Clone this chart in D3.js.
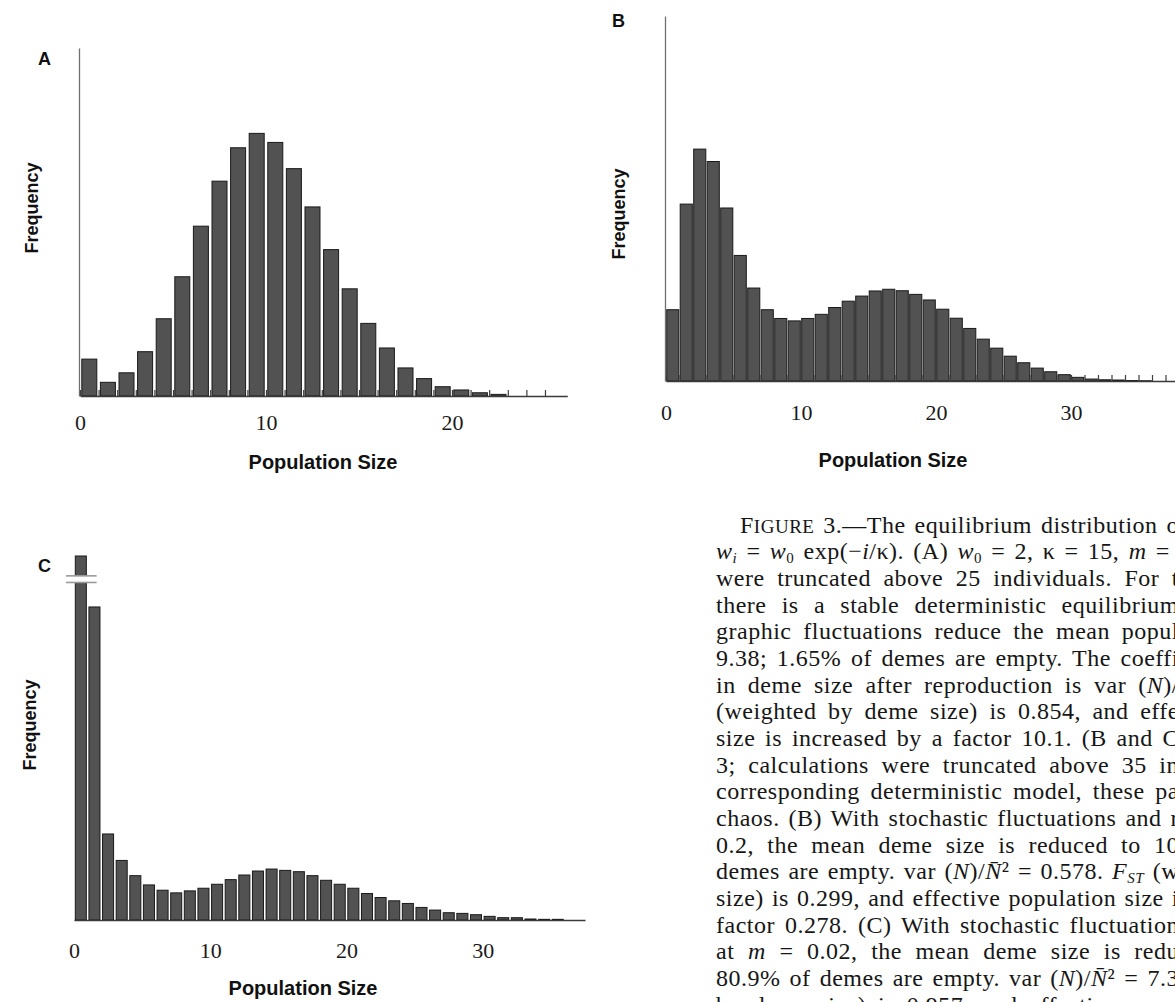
<!DOCTYPE html>
<html>

<head>
  <title>Figure 3</title>
  <script type="text/javascript" src="https://cdn.jsdelivr.net/npm/d3@7"></script>
  <style>
    body { margin: 0; background: #fff; }
    svg { display: block; }
  </style>
</head>

<body>
  <script type="text/javascript">

    // Frequencies (% of demes). Index = population size.
    const freqA = [1.59, 0.59, 1.00, 1.91, 3.33, 5.14, 7.32, 9.26, 10.70, 11.32, 10.93, 9.80,
      8.15, 6.31, 4.62, 3.13, 2.07, 1.21, 0.75, 0.40, 0.26, 0.14, 0.07];
    const freqB = [2.93, 7.27, 9.53, 9.02, 7.11, 5.16, 3.82, 2.93, 2.57, 2.47, 2.57, 2.74,
      3.02, 3.28, 3.49, 3.70, 3.77, 3.71, 3.56, 3.33, 2.95, 2.58, 2.16, 1.72, 1.35, 1.02,
      0.75, 0.53, 0.38, 0.26, 0.15, 0.08, 0.05, 0.04, 0.02, 0.01];
    // first bar of C (80.9% empty demes) runs off the top of the axis
    const freqC = [80.9, 4.73, 1.30, 0.90, 0.67, 0.53, 0.45, 0.41, 0.44, 0.48, 0.54, 0.61,
      0.68, 0.74, 0.77, 0.75, 0.73, 0.67, 0.60, 0.54, 0.48, 0.40, 0.34, 0.29, 0.25, 0.19,
      0.15, 0.11, 0.10, 0.08, 0.055, 0.035, 0.035, 0.015, 0.01, 0.01];

    // tick labels
    const labelsA = [0, 10, 20];
    const labelsB = [0, 10, 20, 30];
    const labelsC = [0, 10, 20, 30];

    // small tick marks along the base (every integer)
    const minorA = d3.range(0, 26);
    const minorB = d3.range(0, 39);

    // Caption: each line is a list of [text, style] pieces.
    // style: "" normal, "i" italic, "sub" subscript, "isub" italic subscript, "sc" small caps
    const caption = [
      [["F", ""], ["IGURE", "sc"], [" 3.—The equilibrium distribution o", ""], ["f deme size", ""]],
      [["w", "i"], ["i", "isub"], [" = ", ""], ["w", "i"], ["0", "sub"], [" exp(−", ""], ["i", "i"], ["/κ). (A) ", ""],
       ["w", "i"], ["0", "sub"], [" = 2, κ = 15, ", ""], ["m", "i"], [" = ", ""], ["0.2. Calculations", ""]],
      [["were truncated above 25 individuals. For t", ""], ["hese parameters", ""]],
      [["there is a stable deterministic equilibrium", ""], [" at N = 10.7; demo-", ""]],
      [["graphic fluctuations reduce the mean popul", ""], ["ation size to", ""]],
      [["9.38; 1.65% of demes are empty. The coeffi", ""], ["cient of variation", ""]],
      [["in deme size after reproduction is var (", ""], ["N", "i"], [")/", ""], ["N\u0304\u00b2 = 0.290.", ""]],
      [["(weighted by deme size) is 0.854, and effe", ""], ["ctive population", ""]],
      [["size is increased by a factor 10.1. (B and C", ""], [") w0 = 5, κ =", ""]],
      [["3; calculations were truncated above 35 in", ""], ["dividuals. In the", ""]],
      [["corresponding deterministic model, these pa", ""], ["rameters give", ""]],
      [["chaos. (B) With stochastic fluctuations and r", ""], ["m", ""]],
      [["0.2, the mean deme size is reduced to 10", ""], [".5, and 2.93% of", ""]],
      [["demes are empty. var (", ""], ["N", "i"], [")/", ""], ["N\u0304", "i"], ["\u00b2 = 0.578. ", ""], ["F", "i"], ["ST", "isub"], [" (w", ""], ["eighted by deme", ""]],
      [["size) is 0.299, and effective population size i", ""], ["s reduced by a", ""]],
      [["factor 0.278. (C) With stochastic fluctuation", ""], ["s and migration", ""]],
      [["at ", ""], ["m", "i"], [" = 0.02, the mean deme size is redu", ""], ["ced to 1.77, and", ""]],
      [["80.9% of demes are empty. var (", ""], ["N", "i"], [")/", ""], ["N\u0304", "i"], ["\u00b2 = 7.3", ""], ["3. F", ""]],
      [["by deme size) is 0.957, and effective popu", ""], ["lation size is", ""]]
    ];
    // how many pieces of each line are visible before the right edge
    const visiblePieces = [3, 13, 1, 1, 1, 1, 3, 1, 1, 1, 1, 1, 1, 8, 1, 1, 3, 5, 1];

    const w = 1175;
    const h = 1002;
    const serif = "'Liberation Serif', 'Times New Roman', serif";
    const sans = "'Liberation Sans', Arial, Helvetica, sans-serif";

    const svg = d3.select("body")
      .append("svg")
      .attr("width", w)
      .attr("height", h);

    function drawPanel(p) {
      const x = d3.scaleLinear().domain(p.xDomain).range(p.xRange);
      const y = d3.scaleLinear().domain(p.yDomain).range(p.yRange).clamp(true);
      const y0 = y(0);
      const g = svg.append("g");

      // bars
      g.selectAll("rect.bar")
        .data(p.freq)
        .enter()
        .append("rect")
        .attr("class", "bar")
        .attr("x", function (d, i) { return x(i) + p.inset; })
        .attr("y", function (d) { return y(d); })
        .attr("width", function (d, i) { return x(i + 1) - x(i) - 2 * p.inset; })
        .attr("height", function (d) { return y0 - y(d); })
        .attr("fill", "#525252")
        .attr("stroke", "#1a1a1a")
        .attr("stroke-width", 1);

      // y-akse (only a line)
      if (p.yAxis) {
        const ya = g.append("g")
          .attr("transform", "translate(" + (x(0) - 1) + ",0)")
          .call(d3.axisLeft(y).tickValues([]).tickSizeOuter(0));
        ya.select(".domain").attr("stroke", "#707070").attr("stroke-width", 1.3);
      }

      // base line with small upward ticks
      const base = g.append("g")
        .attr("transform", "translate(0," + y0 + ")")
        .call(d3.axisBottom(x).tickValues(p.minor).tickSize(-6).tickSizeOuter(0).tickFormat(""));
      base.select(".domain").attr("stroke", "#3a3a3a").attr("stroke-width", 1.6);
      base.selectAll(".tick line").attr("stroke", "#3c3c3c").attr("stroke-width", 1.2);

      // tick labels
      const lab = g.append("g")
        .attr("transform", "translate(0," + p.labelY + ")")
        .call(d3.axisBottom(x).tickValues(p.labels).tickSize(0).tickPadding(0));
      lab.select(".domain").remove();
      lab.selectAll("text")
        .attr("dy", "0.35em")
        .attr("font-family", serif)
        .attr("font-size", 22)
        .attr("fill", "#1a1a1a");

      // axis titles
      g.append("text")
        .attr("x", p.titleX)
        .attr("y", p.titleY)
        .attr("dy", "0.35em")
        .attr("text-anchor", "middle")
        .attr("font-family", sans)
        .attr("font-weight", "bold")
        .attr("font-size", 20)
        .attr("fill", "#111")
        .text("Population Size");

      g.append("text")
        .attr("transform", "translate(" + p.freqX + "," + p.freqY + ") rotate(-90)")
        .attr("dy", "0.35em")
        .attr("text-anchor", "middle")
        .attr("font-family", sans)
        .attr("font-weight", "bold")
        .attr("font-size", 18)
        .attr("fill", "#111")
        .text("Frequency");

      // panel letter
      g.append("text")
        .attr("x", p.letterX)
        .attr("y", p.letterY)
        .attr("font-family", sans)
        .attr("font-weight", "bold")
        .attr("font-size", 18)
        .attr("fill", "#111")
        .text(p.letter);

      // broken first bar (panel C)
      if (p.breakAt) {
        const bx0 = x(0) - 8;
        const bx1 = x(1) + 9;
        const ya = y(p.breakAt[0]);
        const yb = y(p.breakAt[1]);
        g.append("rect")
          .attr("x", bx0).attr("y", ya).attr("width", bx1 - bx0).attr("height", yb - ya)
          .attr("fill", "#fff");
        [ya, yb].forEach(function (yy) {
          g.append("line")
            .attr("x1", bx0).attr("x2", bx1).attr("y1", yy).attr("y2", yy)
            .attr("stroke", "#9a9a9a").attr("stroke-width", 1.6);
        });
      }
    }

    // Panel A
    drawPanel({
      freq: freqA, labels: labelsA, minor: minorA,
      xDomain: [0, 26.2], xRange: [80, 567.3],
      yDomain: [0, 15], yRange: [396, 48],
      inset: 1.8, yAxis: true,
      labelY: 422, titleX: 323, titleY: 462,
      freqX: 32, freqY: 208, letter: "A", letterX: 38, letterY: 65
    });

    // Panel B
    drawPanel({
      freq: freqB, labels: labelsB, minor: minorB,
      xDomain: [0, 38.5], xRange: [666, 666 + 38.5 * 13.5],
      yDomain: [0, 15], yRange: [381, 16],
      inset: 0.7, yAxis: true,
      labelY: 412, titleX: 893, titleY: 460,
      freqX: 619, freqY: 214, letter: "B", letterX: 612, letterY: 27
    });

    // Panel C
    drawPanel({
      freq: freqC, labels: labelsC, minor: [],
      xDomain: [0, 37.5], xRange: [74, 585],
      yDomain: [0, 5.5], yRange: [920, 556],
      inset: 1.3, yAxis: false,
      labelY: 950, titleX: 303, titleY: 988,
      freqX: 30, freqY: 725, letter: "C", letterX: 38, letterY: 572,
      breakAt: [5.2, 5.1]
    });

    // Caption (cut by the right edge of the page)
    const capX = 716;
    const capY = 532.7;
    const lineH = 26.67;
    const capRight = 1179;

    caption.forEach(function (line, li) {
      const x0 = li === 0 ? 740 : capX;
      const t = svg.append("text")
        .attr("x", x0)
        .attr("y", capY + li * lineH)
        .attr("font-family", serif)
        .attr("font-size", 24)
        .attr("letter-spacing", 0.5)
        .attr("fill", "#161616")
        .attr("xml:space", "preserve");

      let shift = 0;
      function addPiece(piece) {
        const s = piece[1];
        const ts = t.append("tspan").text(piece[0]);
        const target = (s === "sub" || s === "isub") ? 4 : 0;
        if (target !== shift) {
          ts.attr("dy", target - shift);
          shift = target;
        }
        if (s === "i" || s === "isub") ts.attr("font-style", "italic");
        if (s === "sub" || s === "isub") ts.attr("font-size", 15);
        if (s === "sc") ts.attr("font-size", 19);
      }

      line.slice(0, visiblePieces[li]).forEach(addPiece);

      // justify the visible part so it reaches the page edge
      const natural = t.node().getComputedTextLength();
      const visText = line.slice(0, visiblePieces[li]).map(function (p) { return p[0]; }).join("");
      const spaces = (visText.match(/ /g) || []).length;
      if (spaces > 0) {
        const ws = Math.max(0, (capRight - x0 - natural) / spaces);
        t.attr("word-spacing", ws);
      }

      line.slice(visiblePieces[li]).forEach(addPiece);
    });
  </script>
</body>

</html>
